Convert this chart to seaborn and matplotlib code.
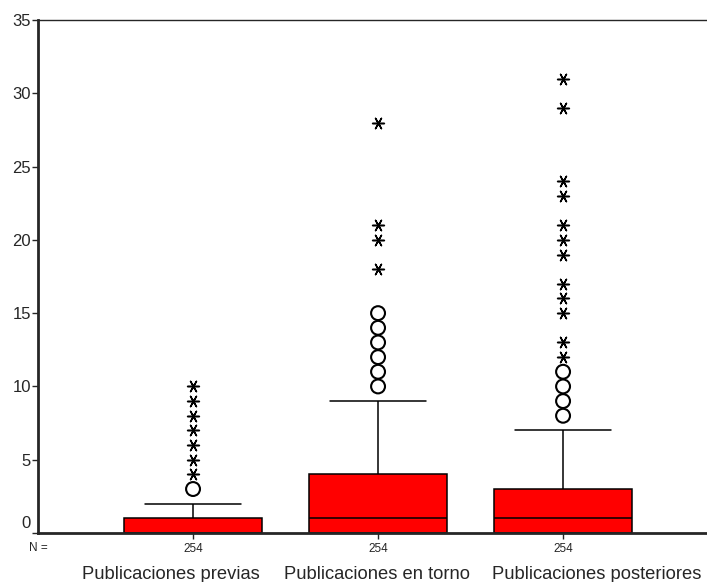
import matplotlib
matplotlib.use('Agg')
import matplotlib.pyplot as plt
import matplotlib.transforms as mtransforms
import seaborn as sns
import pandas as pd

# categorias y resumen de cinco numeros (min, Q1, mediana, Q3, max bigote)
categorias = ["Publicaciones previas", "Publicaciones en torno", "Publicaciones posteriores"]
n_casos = [254, 254, 254]
bigote_inf = [0, 0, 0]
q1 = [0, 0, 0]
mediana = [0, 1, 1]
q3 = [1, 4, 3]
bigote_sup = [2, 9, 7]

# valores atipicos (circulos) y extremos (asteriscos)
atipicos = [
    [3],
    [10, 11, 12, 13, 14, 15],
    [8, 9, 10, 11],
]
extremos = [
    [4, 5, 6, 7, 8, 9, 10],
    [18, 20, 21, 28],
    [12, 13, 15, 16, 17, 19, 20, 21, 23, 24, 29, 31],
]

sns.set_style("ticks")
plt.rcParams['font.family'] = ['Liberation Sans', 'DejaVu Sans']

# tabla larga con el resumen; con whis=(0,100) los percentiles reproducen el resumen
filas = []
for i, cat in enumerate(categorias):
    for v in [bigote_inf[i], q1[i], mediana[i], q3[i], bigote_sup[i]]:
        filas.append({"grupo": cat, "valor": v})
df_box = pd.DataFrame(filas)

df_circ = pd.DataFrame([{"grupo": c, "valor": v} for c, vals in zip(categorias, atipicos) for v in vals])
df_ext = pd.DataFrame([{"grupo": c, "valor": v} for c, vals in zip(categorias, extremos) for v in vals])

fig = plt.figure(figsize=(7.07, 5.82), dpi=100)
ax = fig.add_axes([38 / 707, 1 - 533 / 582, 1 - 38 / 707, (533 - 20) / 582])

sns.boxplot(data=df_box, x="grupo", y="valor", order=categorias, whis=(0, 100),
            width=0.746, color="#FF0000", saturation=1, showfliers=False,
            linecolor="black", linewidth=1.1, ax=ax,
            capprops={"linewidth": 1.1}, whiskerprops={"linewidth": 1.1},
            medianprops={"linewidth": 1.1})

sns.stripplot(data=df_circ, x="grupo", y="valor", order=categorias, jitter=False,
              marker="o", size=10, color="black", facecolor="none",
              edgecolor="black", linewidth=1.5, ax=ax, zorder=4)
sns.stripplot(data=df_ext, x="grupo", y="valor", order=categorias, jitter=False,
              marker=(6, 2, 30), size=8.5, color="black", linewidth=1.1, ax=ax, zorder=4)

# ancho de los topes de los bigotes
for ln in ax.lines:
    xd = ln.get_xdata()
    yd = ln.get_ydata()
    if len(xd) == 2 and yd[0] == yd[1] and abs(xd[1] - xd[0]) < 0.74 and abs(xd[1] - xd[0]) > 0.2:
        c = (xd[0] + xd[1]) / 2
        ln.set_xdata([c - 0.26, c + 0.26])

ax.set_xlim(-0.838, 2.778)
ax.set_ylim(0, 35)
ax.set_yticks([0, 5, 10, 15, 20, 25, 30, 35])
ax.set_xticks(range(len(categorias)))
ax.set_xticklabels([str(n) for n in n_casos], fontsize=8.5)
ax.set_xlabel("")
ax.set_ylabel("")
ax.tick_params(axis="y", labelsize=12, length=4, width=1, pad=1, direction="out")
ax.tick_params(axis="x", length=4, width=1, pad=3, direction="out")

# el "0" va algo por encima del eje, como en SPSS
lab0 = ax.get_yticklabels()[0]
lab0.set_transform(lab0.get_transform() + mtransforms.ScaledTranslation(0, 8 / 72, fig.dpi_scale_trans))

for s in ["left", "bottom"]:
    ax.spines[s].set_linewidth(2)
ax.spines["top"].set_visible(True)
ax.spines["top"].set_linewidth(1)
ax.spines["right"].set_visible(False)

# rotulos de grupo en una sola linea, como los pone SPSS
centros_px = [171, 377, 597]
for cat, cx in zip(categorias, centros_px):
    fig.text(cx / 707, 1 - 579 / 582, cat, ha="center", va="baseline", fontsize=13.2)
fig.text(29 / 707, 1 - 548 / 582, "N =", ha="left", va="center", fontsize=8.5)

plt.savefig("out.png", dpi=100)
plt.close()
